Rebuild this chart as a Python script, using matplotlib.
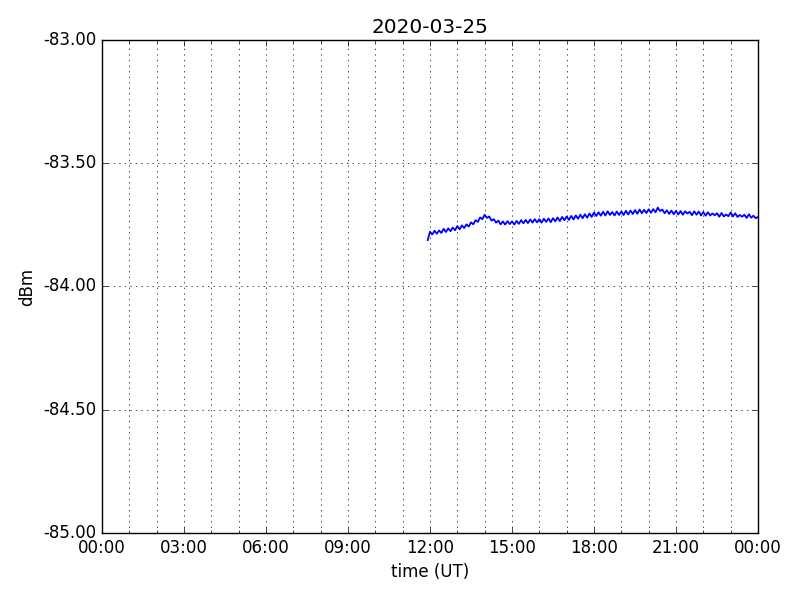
import datetime as dt
import matplotlib
matplotlib.use('Agg')
import matplotlib.pyplot as plt
import matplotlib.dates as mdates
from matplotlib.ticker import FormatStrFormatter

# signal level, 5 minute samples starting 11:55 UT
start = dt.datetime(2020, 3, 25, 11, 55)
step_min = 5
level = [
    -83.812,
    -83.778, -83.789, -83.774, -83.786, -83.773, -83.783, -83.766, -83.779, -83.764, -83.776, -83.761, -83.772,
    -83.755, -83.768, -83.752, -83.763, -83.748, -83.757, -83.740, -83.748, -83.731, -83.738, -83.720, -83.727,
    -83.709, -83.722, -83.716, -83.733, -83.727, -83.741, -83.733, -83.748, -83.736, -83.749, -83.735, -83.747,
    -83.736, -83.749, -83.734, -83.746, -83.731, -83.744, -83.730, -83.743, -83.728, -83.741, -83.727, -83.740,
    -83.727, -83.741, -83.725, -83.738, -83.724, -83.739, -83.723, -83.736, -83.720, -83.735, -83.718, -83.731,
    -83.716, -83.730, -83.714, -83.728, -83.712, -83.725, -83.709, -83.723, -83.707, -83.721, -83.704, -83.718,
    -83.700, -83.714, -83.699, -83.713, -83.697, -83.712, -83.695, -83.710, -83.698, -83.712, -83.696, -83.710,
    -83.696, -83.710, -83.693, -83.708, -83.692, -83.706, -83.690, -83.705, -83.688, -83.703, -83.689, -83.702,
    -83.687, -83.701, -83.686, -83.699, -83.680, -83.694, -83.688, -83.703, -83.691, -83.706, -83.692, -83.707,
    -83.693, -83.708, -83.694, -83.709, -83.695, -83.704, -83.697, -83.711, -83.695, -83.709, -83.696, -83.712,
    -83.698, -83.713, -83.699, -83.712, -83.704, -83.711, -83.703, -83.717, -83.702, -83.716, -83.708, -83.715,
    -83.700, -83.716, -83.703, -83.718, -83.710, -83.717, -83.709, -83.722, -83.707, -83.721, -83.713, -83.723,
    -83.718,
]
times = [start + dt.timedelta(minutes=step_min * i) for i in range(len(level))]

day = dt.datetime(2020, 3, 25)
yticks = [-85.0, -84.5, -84.0, -83.5, -83.0]

plt.style.use('classic')
fig = plt.figure(figsize=(8, 6))
ax = fig.add_axes([0.1275, 0.1117, 0.82, 0.8217])
ax.plot(times, level, color='b', linewidth=1.3)

ax.set_xlim(day, day + dt.timedelta(days=1))
ax.set_ylim(-85.0, -83.0)
ax.set_yticks(yticks)
ax.yaxis.set_major_formatter(FormatStrFormatter('%.2f'))
ax.xaxis.set_major_locator(mdates.HourLocator(interval=3))
ax.xaxis.set_minor_locator(mdates.HourLocator())
ax.xaxis.set_major_formatter(mdates.DateFormatter('%H:%M'))
ax.grid(True, which='both', axis='x')
ax.grid(True, which='major', axis='y')

ax.set_title('2020-03-25')
ax.set_xlabel('time (UT)')
ax.set_ylabel('dBm')

fig.savefig('out.png', dpi=100)
